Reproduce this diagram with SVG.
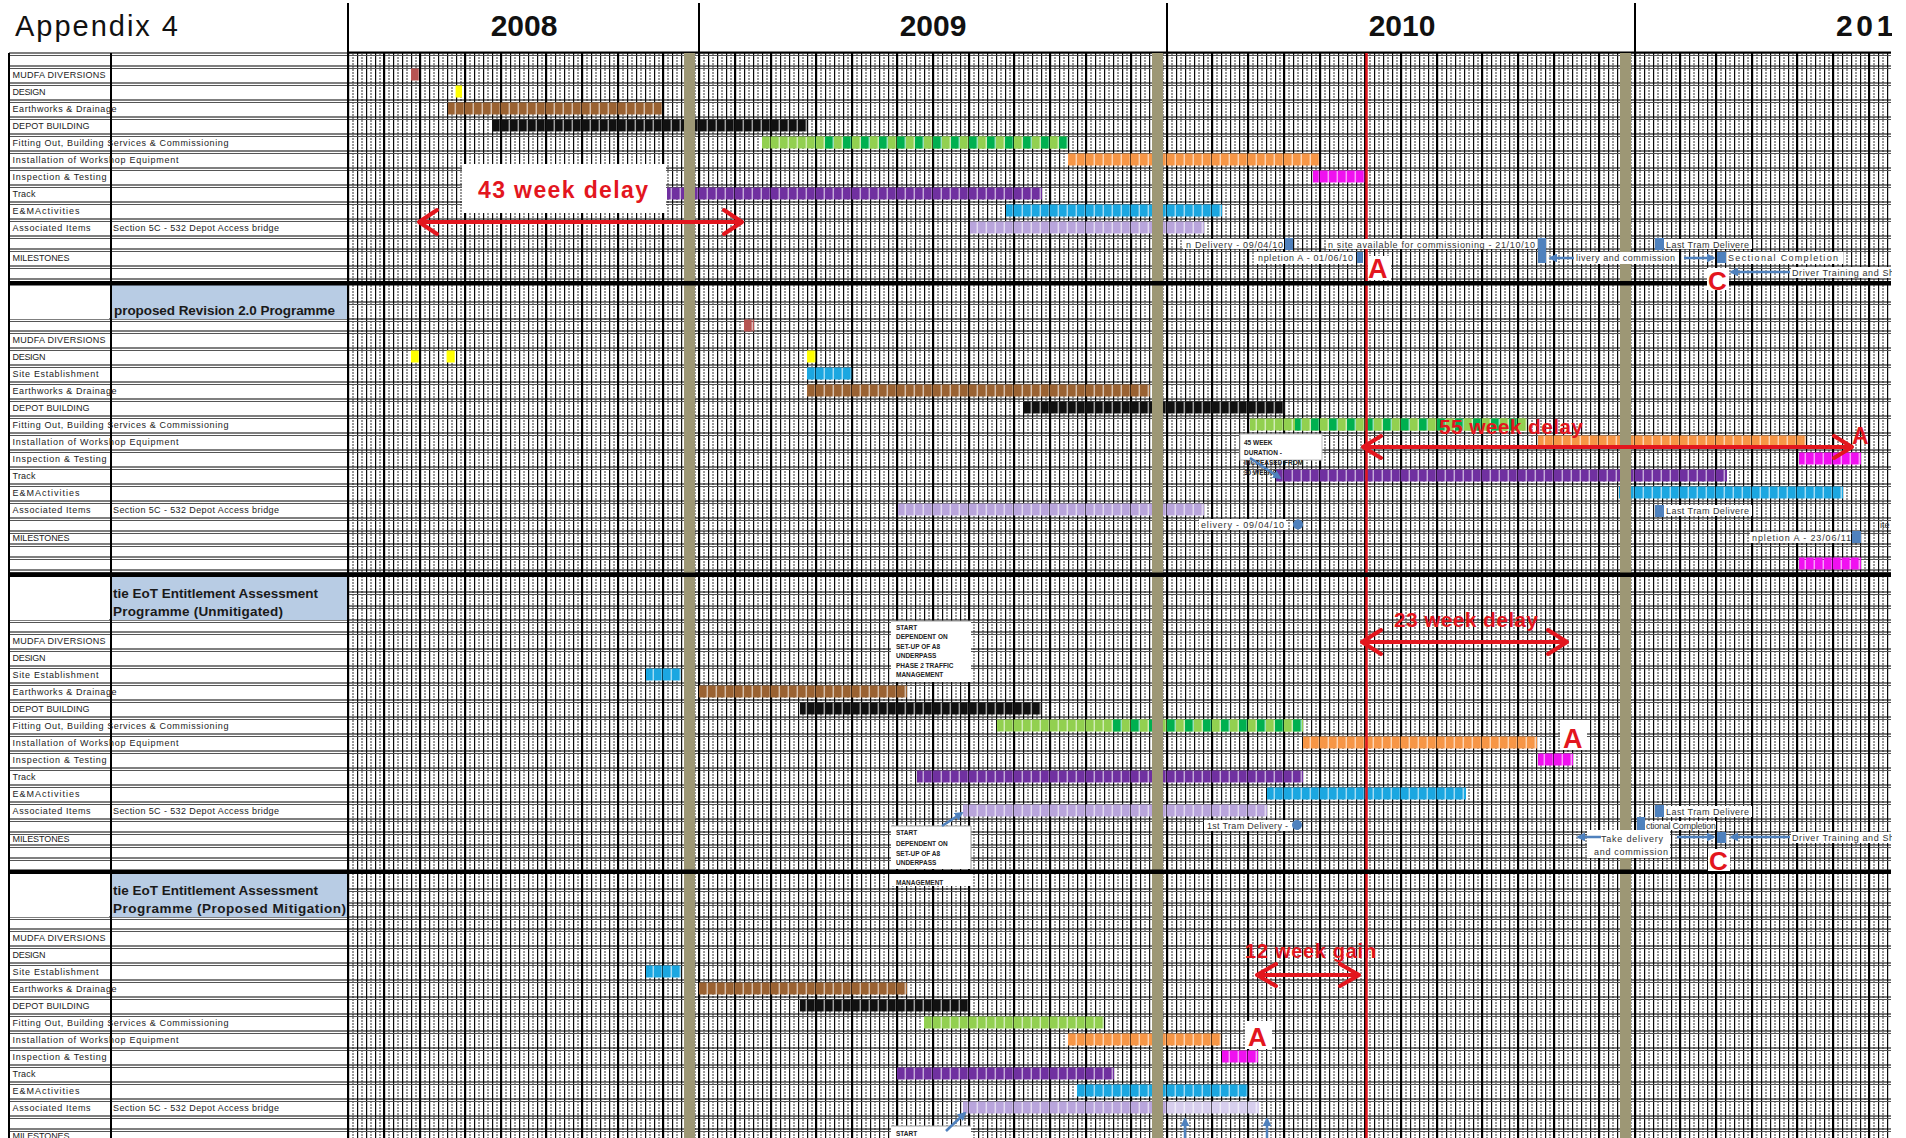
<svg xmlns="http://www.w3.org/2000/svg" xmlns:xlink="http://www.w3.org/1999/xlink" width="1906" height="1138" viewBox="0 0 1906 1138">
<defs>
<style>
text{font-family:"Liberation Sans",Arial,sans-serif}
.lbl{font-size:9px;fill:#222}
.hdr{font-size:13.5px;font-weight:bold;fill:#1a1a1a}
.yr{font-size:30px;font-weight:bold;fill:#111;text-anchor:middle}
.ms{font-size:9px;fill:#333}
.rt{font-weight:bold;fill:#e3161e}
.nt{font-size:6.5px;font-weight:bold;fill:#222}
.br{fill:#9a6232}.bk{fill:#111}.gr{fill:#92d050}.ga{fill:url(#galt)}.or{fill:#f79646}.mg{fill:#f010f0}.pu{fill:#7030a0}.cy{fill:#1ba7e1}.lv{fill:#b9a5dc}.ye{fill:#ffff00}.rd{fill:#b65452}
.mk{fill:#4f81bd}
.wb{fill:#fff}
.gs{fill:#9d9775}
.ra{stroke:#e3161e;stroke-width:4;fill:none;stroke-linecap:round;stroke-linejoin:round}
.ba{stroke:#4f81bd;stroke-width:2.5;fill:none;marker-end:url(#bh)}
</style>
<pattern id="wk" x="348" y="0" width="9" height="3" patternUnits="userSpaceOnUse">
<rect x="0" y="0" width="1.2" height="3" fill="#0a0a0a"/>
<rect x="4.5" y="0" width="1" height="2" fill="#333"/>
</pattern>
<pattern id="galt" x="348" y="0" width="18" height="12" patternUnits="userSpaceOnUse">
<rect width="18" height="12" fill="#92d050"/><rect x="9" width="9" height="12" fill="#00b050"/>
</pattern>
<pattern id="segp" x="348" y="0" width="9" height="10" patternUnits="userSpaceOnUse">
<rect width="9" height="10" fill="#fff"/><rect x="7.6" width="1.3" height="10" fill="#555"/>
</pattern>
<mask id="seg" maskUnits="userSpaceOnUse" x="0" y="0" width="1906" height="1138">
<rect width="1906" height="1138" fill="url(#segp)"/>
</mask>
<marker id="bh" viewBox="0 0 10 10" refX="8" refY="5" markerWidth="3.5" markerHeight="3.5" orient="auto">
<path d="M0,0 L10,5 L0,10 z" fill="#4f81bd"/>
</marker>
<clipPath id="page"><rect x="0" y="0" width="1892" height="1138"/></clipPath>
<g id="lblset">
<text class="lbl" x="12.5" y="0" textLength="93">MUDFA DIVERSIONS</text>
<text class="lbl" x="12.5" y="17" textLength="33">DESIGN</text>
<text class="lbl" x="12.5" y="34" textLength="86">Site Establishment</text>
<text class="lbl" x="12.5" y="51" textLength="104">Earthworks &amp; Drainage</text>
<text class="lbl" x="12.5" y="68" textLength="77">DEPOT BUILDING</text>
<text class="lbl" x="12.5" y="85" textLength="216">Fitting Out, Building Services &amp; Commissioning</text>
<text class="lbl" x="12.5" y="102" textLength="166">Installation of Workshop Equipment</text>
<text class="lbl" x="12.5" y="119" textLength="94">Inspection &amp; Testing</text>
<text class="lbl" x="12.5" y="136" textLength="23">Track</text>
<text class="lbl" x="12.5" y="153" textLength="67">E&amp;MActivities</text>
<text class="lbl" x="12.5" y="170" textLength="78">Associated Items</text>
<text class="lbl" x="113" y="170" textLength="166">Section 5C - 532 Depot Access bridge</text>
<text class="lbl" x="12.5" y="198" textLength="57">MILESTONES</text>
</g>
</defs>
<rect width="1906" height="1138" fill="#fff"/>
<g clip-path="url(#page)">
<g id="grid">
<rect x="348" y="53" width="1543" height="1085" fill="url(#wk)"/>
<path stroke="#000" stroke-width="1.1" fill="none" d="M9 53H1891M9 66H1891M9 83H1891M9 100H1891M9 117H1891M9 134H1891M9 151H1891M9 168H1891M9 185H1891M9 202H1891M9 219H1891M9 236H1891M9 249H1891M9 266H1891M9 279H1891M9 319H1891M9 331H1891M9 348H1891M9 365H1891M9 382H1891M9 399H1891M9 416H1891M9 433H1891M9 450H1891M9 467H1891M9 484H1891M9 501H1891M9 518H1891M9 531H1891M9 544H1891M9 557H1891M9 570H1891M9 620H1891M9 632H1891M9 649H1891M9 666H1891M9 683H1891M9 700H1891M9 717H1891M9 734H1891M9 751H1891M9 768H1891M9 785H1891M9 802H1891M9 819H1891M9 832H1891M9 845H1891M9 858H1891M9 917H1891M9 929H1891M9 946H1891M9 963H1891M9 980H1891M9 997H1891M9 1014H1891M9 1031H1891M9 1048H1891M9 1065H1891M9 1082H1891M9 1099H1891M9 1116H1891M9 1129H1891M348 302H1891M348 592H1891M348 606H1891M348 889H1891M348 903H1891"/>
<path stroke="#555" stroke-width="1" fill="none" d="M9 55.5H1891M9 68.5H1891M9 85.5H1891M9 102.5H1891M9 119.5H1891M9 136.5H1891M9 153.5H1891M9 170.5H1891M9 187.5H1891M9 204.5H1891M9 221.5H1891M9 238.5H1891M9 251.5H1891M9 268.5H1891M9 281.5H1891M9 321.5H1891M9 333.5H1891M9 350.5H1891M9 367.5H1891M9 384.5H1891M9 401.5H1891M9 418.5H1891M9 435.5H1891M9 452.5H1891M9 469.5H1891M9 486.5H1891M9 503.5H1891M9 520.5H1891M9 533.5H1891M9 546.5H1891M9 559.5H1891M9 572.5H1891M9 622.5H1891M9 634.5H1891M9 651.5H1891M9 668.5H1891M9 685.5H1891M9 702.5H1891M9 719.5H1891M9 736.5H1891M9 753.5H1891M9 770.5H1891M9 787.5H1891M9 804.5H1891M9 821.5H1891M9 834.5H1891M9 847.5H1891M9 860.5H1891M9 919.5H1891M9 931.5H1891M9 948.5H1891M9 965.5H1891M9 982.5H1891M9 999.5H1891M9 1016.5H1891M9 1033.5H1891M9 1050.5H1891M9 1067.5H1891M9 1084.5H1891M9 1101.5H1891M9 1118.5H1891M9 1131.5H1891M348 304.5H1891M348 594.5H1891M348 608.5H1891M348 891.5H1891M348 905.5H1891"/>
<path stroke="#000" stroke-width="2" fill="none" d="M384 53V1138M420 53V1138M465 53V1138M501 53V1138M546 53V1138M582 53V1138M618 53V1138M663 53V1138M699 3V1138M735 53V1138M771 53V1138M816 53V1138M852 53V1138M897 53V1138M933 53V1138M969 53V1138M1014 53V1138M1050 53V1138M1086 53V1138M1131 53V1138M1167 3V1138M1212 53V1138M1248 53V1138M1284 53V1138M1320 53V1138M1365 53V1138M1401 53V1138M1437 53V1138M1482 53V1138M1518 53V1138M1554 53V1138M1599 53V1138M1635 3V1138M1680 53V1138M1716 53V1138M1752 53V1138M1797 53V1138M1833 53V1138M1869 53V1138"/>
<path stroke="#000" stroke-width="2" fill="none" d="M348 3V1138M348 52.5H1891M9 53V1138"/>
<rect x="110" y="53" width="2" height="1085" fill="#000"/>
<rect x="10" y="285" width="99" height="34" class="wb"/>
<rect x="10" y="577" width="99" height="43" class="wb"/>
<rect x="10" y="874" width="99" height="43" class="wb"/>
<rect x="112" y="285" width="235" height="34" fill="#b8cce4"/>
<rect x="112" y="577" width="235" height="43" fill="#b8cce4"/>
<rect x="112" y="874" width="235" height="43" fill="#b8cce4"/>
</g>
<g id="bars" mask="url(#seg)">
<rect class="rd" x="411" y="68.5" width="8" height="12"/>
<rect class="ye" x="455" y="85.5" width="7" height="12"/>
<rect class="br" x="448" y="102.5" width="214" height="12"/>
<rect class="bk" x="492" y="119.5" width="315" height="12"/>
<rect class="gr" x="762" y="136.5" width="306" height="12"/>
<rect class="ga" x="815" y="136.5" width="253" height="12"/>
<rect class="or" x="1068" y="153.5" width="251" height="12"/>
<rect class="mg" x="1313" y="170.5" width="52" height="12"/>
<rect class="pu" x="667" y="187.5" width="375" height="12"/>
<rect class="cy" x="1006" y="204.5" width="216" height="12"/>
<rect class="lv" x="970" y="221.5" width="234" height="12"/>
<rect class="rd" x="744" y="319.5" width="10" height="12"/>
<rect class="ye" x="411" y="350.5" width="8" height="12"/>
<rect class="ye" x="446" y="350.5" width="9" height="12"/>
<rect class="ye" x="807" y="350.5" width="9" height="12"/>
<rect class="cy" x="807" y="367.5" width="45" height="12"/>
<rect class="br" x="807" y="384.5" width="343" height="12"/>
<rect class="bk" x="1024" y="401.5" width="261" height="12"/>
<rect class="gr" x="1250" y="418.5" width="277" height="12"/>
<rect class="ga" x="1295" y="418.5" width="232" height="12"/>
<rect class="or" x="1538" y="435.5" width="268" height="12"/>
<rect class="mg" x="1799" y="452.5" width="62" height="12"/>
<rect class="pu" x="1276" y="469.5" width="451" height="12"/>
<rect class="cy" x="1619" y="486.5" width="224" height="12"/>
<rect class="lv" x="898" y="503.5" width="306" height="12"/>
<rect class="mg" x="1799" y="557.5" width="62" height="12"/>
<rect class="cy" x="646" y="668.5" width="35" height="12"/>
<rect class="br" x="699" y="685.5" width="208" height="12"/>
<rect class="bk" x="800" y="702.5" width="241" height="12"/>
<rect class="gr" x="997" y="719.5" width="306" height="12"/>
<rect class="ga" x="1105" y="719.5" width="198" height="12"/>
<rect class="or" x="1303" y="736.5" width="234" height="12"/>
<rect class="mg" x="1538" y="753.5" width="35" height="12"/>
<rect class="pu" x="917" y="770.5" width="386" height="12"/>
<rect class="cy" x="1267" y="787.5" width="199" height="12"/>
<rect class="lv" x="963" y="804.5" width="304" height="12"/>
<rect class="cy" x="646" y="965.5" width="35" height="12"/>
<rect class="br" x="699" y="982.5" width="208" height="12"/>
<rect class="bk" x="800" y="999.5" width="169" height="12"/>
<rect class="gr" x="924" y="1016.5" width="180" height="12"/>
<rect class="or" x="1068" y="1033.5" width="153" height="12"/>
<rect class="mg" x="1222" y="1050.5" width="36" height="12"/>
<rect class="pu" x="897" y="1067.5" width="217" height="12"/>
<rect class="cy" x="1077" y="1084.5" width="171" height="12"/>
<rect class="lv" x="963" y="1101.5" width="204" height="12"/>
<rect x="1167" y="1101.5" width="92" height="12" fill="#d8cfee"/>
</g>
<g id="stripes">
<rect class="gs" x="684" y="53" width="11" height="1085"/>
<rect class="gs" x="1152" y="53" width="11" height="1085"/>
<rect class="gs" x="1620" y="53" width="11" height="1085"/>
</g>
<path d="M1366.5 53V1138" stroke="#e3161e" stroke-width="2.5"/>
<g id="separators" fill="#000">
<rect x="9" y="281" width="1882" height="4.5"/>
<rect x="9" y="572.5" width="1882" height="4.5"/>
<rect x="9" y="869.5" width="1882" height="4.5"/>
</g>
<g id="header">
<text x="15" y="36" font-size="29" fill="#111" textLength="163">Appendix 4</text>
<text class="yr" x="524" y="36">2008</text>
<text class="yr" x="933" y="36">2009</text>
<text class="yr" x="1402" y="36">2010</text>
<text class="yr" x="1836" y="36" style="text-anchor:start" textLength="76">2011</text>
</g>
<g id="labels-s1">
<text class="lbl" x="12.5" y="77.5" textLength="93">MUDFA DIVERSIONS</text>
<text class="lbl" x="12.5" y="94.5" textLength="33">DESIGN</text>
<text class="lbl" x="12.5" y="111.5" textLength="104">Earthworks &amp; Drainage</text>
<text class="lbl" x="12.5" y="128.5" textLength="77">DEPOT BUILDING</text>
<text class="lbl" x="12.5" y="145.5" textLength="216">Fitting Out, Building Services &amp; Commissioning</text>
<text class="lbl" x="12.5" y="162.5" textLength="166">Installation of Workshop Equipment</text>
<text class="lbl" x="12.5" y="179.5" textLength="94">Inspection &amp; Testing</text>
<text class="lbl" x="12.5" y="196.5" textLength="23">Track</text>
<text class="lbl" x="12.5" y="213.5" textLength="67">E&amp;MActivities</text>
<text class="lbl" x="12.5" y="230.5" textLength="78">Associated Items</text>
<text class="lbl" x="113" y="230.5" textLength="166">Section 5C - 532 Depot Access bridge</text>
<text class="lbl" x="12.5" y="260.5" textLength="57">MILESTONES</text>
</g>
<g id="section2">
<text class="hdr" x="114" y="315" textLength="221">proposed Revision 2.0 Programme</text>
<use xlink:href="#lblset" href="#lblset" x="0" y="342.5"/>
</g>
<g id="section3">
<text class="hdr" x="113" y="598" textLength="205">tie EoT Entitlement Assessment</text>
<text class="hdr" x="113" y="616" textLength="170">Programme (Unmitigated)</text>
<use xlink:href="#lblset" href="#lblset" x="0" y="643.5"/>
</g>
<g id="section4">
<text class="hdr" x="113" y="895" textLength="205">tie EoT Entitlement Assessment</text>
<text class="hdr" x="113" y="913" textLength="233">Programme (Proposed Mitigation)</text>
<use xlink:href="#lblset" href="#lblset" x="0" y="940.5"/>
</g>
<g id="milestones-s1">
<rect class="wb" x="1183" y="239" width="101" height="10"/>
<text class="ms" x="1186" y="248" textLength="97">n Delivery - 09/04/10</text>
<rect class="mk" x="1285" y="238" width="8" height="12"/>
<rect class="wb" x="1326" y="239" width="211" height="10"/>
<text class="ms" x="1328" y="248" textLength="207">n site available for commissioning - 21/10/10</text>
<rect class="mk" x="1538" y="238" width="8" height="25"/>
<rect class="wb" x="1255" y="252" width="101" height="12"/>
<text class="ms" x="1258" y="261" textLength="95">npletion A - 01/06/10</text>
<rect class="mk" x="1357" y="252" width="6" height="11"/>
<rect class="wb" x="1575" y="252" width="103" height="12"/>
<text class="ms" x="1576" y="261" textLength="99">livery and commission</text>
<rect class="mk" x="1717" y="252" width="9" height="11"/>
<rect class="wb" x="1727" y="252" width="116" height="12"/>
<text class="ms" x="1728" y="261" textLength="110">Sectional Completion</text>
<rect class="mk" x="1655" y="238" width="9" height="12"/>
<rect class="wb" x="1665" y="239" width="87" height="10"/>
<text class="ms" x="1666" y="248" textLength="83">Last Tram Delivere</text>
<rect class="wb" x="1791" y="267" width="105" height="11"/>
<text class="ms" x="1792" y="276" textLength="102">Driver Training and Sh</text>
</g>
<g id="milestones-s2">
<rect class="wb" x="1199" y="519" width="87" height="11"/>
<text class="ms" x="1201" y="527.5" textLength="83">elivery - 09/04/10</text>
<circle class="mk" cx="1298" cy="524.5" r="5"/>
<rect class="mk" x="1655" y="505" width="9" height="12"/>
<rect class="wb" x="1665" y="505" width="87" height="11"/>
<text class="ms" x="1666" y="514" textLength="83">Last Tram Delivere</text>
<rect class="wb" x="1750" y="532" width="101" height="11"/>
<text class="ms" x="1752" y="540.5" textLength="99">npletion A - 23/06/11</text>
<rect class="mk" x="1852" y="531" width="9" height="12"/>
<text class="ms" x="1880" y="527.5">ite</text>
</g>
<g id="milestones-s3">
<rect class="wb" x="1204" y="820" width="86" height="11"/>
<text class="ms" x="1207" y="828.5" textLength="81">1st Tram Delivery -</text>
<circle class="mk" cx="1297" cy="825" r="5"/>
<rect class="mk" x="1655" y="805" width="9" height="12"/>
<rect class="wb" x="1665" y="806" width="87" height="11"/>
<text class="ms" x="1666" y="814.5" textLength="83">Last Tram Delivere</text>
<rect class="mk" x="1637" y="817" width="8" height="13"/>
<rect class="wb" x="1645" y="821" width="71" height="9"/>
<text class="ms" x="1646" y="828.5" font-size="6" textLength="70">ctional Completion</text>
<rect class="wb" x="1587" y="830" width="83" height="28"/>
<text class="ms" x="1601" y="841.5" textLength="62">Take delivery</text>
<text class="ms" x="1594" y="854.5" textLength="74">and commission</text>
<rect class="mk" x="1717" y="832" width="9" height="11"/>
<rect class="wb" x="1791" y="832" width="105" height="11"/>
<text class="ms" x="1792" y="841" textLength="102">Driver Training and Sh</text>
</g>
<g id="notes">
<rect class="wb" x="1240" y="434" width="82" height="26" stroke="#bbb" stroke-width="1"/>
<text class="nt" x="1244" y="445">45 WEEK</text>
<text class="nt" x="1244" y="455">DURATION -</text>
<text class="nt" x="1244" y="465">INCREASED FROM</text>
<text class="nt" x="1244" y="475">30 WEEKS</text>
<rect class="wb" x="891" y="621" width="80" height="61"/>
<path d="M891 621H971" stroke="#999" stroke-width="1"/>
<text class="nt" x="896" y="629.5">START</text>
<text class="nt" x="896" y="639">DEPENDENT ON</text>
<text class="nt" x="896" y="648.5">SET-UP OF A8</text>
<text class="nt" x="896" y="658">UNDERPASS</text>
<text class="nt" x="896" y="667.5">PHASE 2 TRAFFIC</text>
<text class="nt" x="896" y="677">MANAGEMENT</text>
<rect class="wb" x="891" y="826" width="80" height="43"/>
<rect class="wb" x="891" y="874" width="80" height="12"/>
<path d="M891 826H971M971 826V869" stroke="#999" stroke-width="1"/>
<text class="nt" x="896" y="835">START</text>
<text class="nt" x="896" y="845.5">DEPENDENT ON</text>
<text class="nt" x="896" y="855.5">SET-UP OF A8</text>
<text class="nt" x="896" y="865">UNDERPASS</text>
<text class="nt" x="896" y="884.5">MANAGEMENT</text>
<rect class="wb" x="891" y="1126" width="80" height="12"/>
<path d="M891 1126H971" stroke="#999" stroke-width="1"/>
<text class="nt" x="896" y="1136">START</text>
</g>
<g id="connectors">
<path class="ba" d="M1250 458L1280 478"/>
<path class="ba" d="M942 826L962 813"/>
<path class="ba" d="M946 1131L965 1113"/>
<path class="ba" d="M1185 1138V1119"/>
<path class="ba" d="M1267 1138V1119"/>
<path class="ba" d="M1574 258H1550"/>
<path class="ba" d="M1684 258H1714"/>
<path class="ba" d="M1790 272H1731"/>
<path class="ba" d="M1601 837H1578"/>
<path class="ba" d="M1677 837H1714"/>
<path class="ba" d="M1790 837H1731"/>
<path class="ra" d="M419 222H742M437 210L419 222L437 234M724 210L742 222L724 234"/>
<path class="ra" d="M1363 447H1852M1381 436L1363 447L1381 458M1834 436L1852 447L1834 458"/>
<path class="ra" d="M1362 642H1567M1381 630L1362 642L1381 654M1548 630L1567 642L1548 654"/>
<path class="ra" d="M1257 975H1359M1276 964L1257 975L1276 986M1340 964L1359 975L1340 986"/>
</g>
<g id="annotations">
<rect class="wb" x="462" y="164" width="204" height="49"/>
<text class="rt" x="478" y="198" font-size="23" textLength="170">43 week delay</text>
<text class="rt" x="1439" y="434" font-size="21" textLength="144">55 week delay</text>
<text class="rt" x="1394" y="627" font-size="21" textLength="144">23 week delay</text>
<text class="rt" x="1245" y="958" font-size="20" textLength="131">12 week gain</text>
<rect class="wb" x="1368" y="256" width="23" height="24"/>
<text class="rt" x="1368" y="278" font-size="27">A</text>
<rect class="wb" x="1707" y="268" width="22" height="22"/>
<text class="rt" x="1708" y="290" font-size="26">C</text>
<text class="rt" x="1852" y="444" font-size="23">A</text>
<rect class="wb" x="1560" y="720" width="27" height="30"/>
<text class="rt" x="1563" y="748" font-size="27">A</text>
<rect class="wb" x="1708" y="849" width="22" height="22"/>
<text class="rt" x="1709" y="870" font-size="26">C</text>
<rect class="wb" x="1245" y="1021" width="27" height="28"/>
<text class="rt" x="1248" y="1046" font-size="26">A</text>
</g>
</g>
</svg>
